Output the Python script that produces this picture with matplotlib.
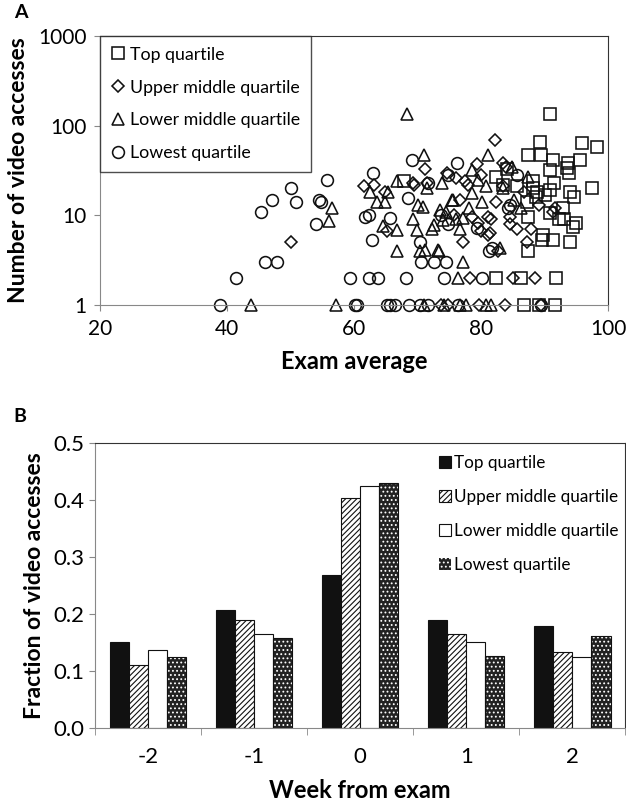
import matplotlib
matplotlib.use("Agg")
import matplotlib.pyplot as plt
from matplotlib.ticker import FixedLocator, FuncFormatter
import numpy as np

plt.rcParams['font.family'] = ['Lato', 'DejaVu Sans']
plt.rcParams['hatch.linewidth'] = 0.8

# ---- Panel A: exam average vs number of video accesses ----
top_x = [67.8, 82.4, 82.4, 83.4, 84.0, 86.2, 86.8, 87.3, 87.4, 87.4, 88.1, 88.1, 88.7, 88.8,
         89.1, 89.3, 89.5, 89.6, 89.8, 90.1, 90.8, 90.9, 90.9, 90.9, 91.3, 91.3, 91.4, 91.6,
         91.8, 92.3, 92.9, 93.0, 93.5, 93.7, 93.8, 94.0, 94.0, 94.5, 94.6, 95.0, 95.6, 95.9,
         97.5, 98.3, 85.6, 87.2]
top_y = [24, 27, 2, 22, 33, 2, 1, 4, 47, 9.6, 24, 20, 16, 18,
         1, 66, 47, 5.3, 6, 17, 134, 32, 10.6, 19, 41, 5.3, 23, 1,
         2, 9, 12, 9, 34, 38, 30, 18, 5, 7.4, 16, 8.2, 41, 64,
         20, 58, 21, 14]

upper_x = [50.1, 61.5, 63.2, 64.8, 65.1, 69.3, 69.5, 71.2, 71.5, 73.6, 74.6, 74.7, 75.8, 76.7,
           77.2, 77.4, 78.3, 78.6, 79.3, 79.5, 79.6, 79.9, 80.0, 81.1, 81.1, 81.4, 81.6, 82.2,
           82.4, 82.7, 83.4, 83.4, 83.8, 83.9, 84.6, 84.6, 85.0, 85.6, 86.8, 87.2, 87.8, 88.5,
           89.1, 89.4, 91.3, 91.6, 78.0, 76.0]
upper_y = [5, 21, 22, 18, 6.7, 23, 22, 33, 23, 1, 30, 1, 10, 14.8,
           5, 24, 2, 9.6, 37, 8.2, 1, 6.7, 28, 6, 9.6, 6.3, 9, 70,
           14, 4, 21, 38, 1, 35, 8, 9.6, 2, 7, 18, 5, 7, 2,
           13, 1, 11, 12, 22, 26]

lower_x = [43.7, 56.1, 56.5, 57.2, 62.5, 63.6, 64.8, 64.6, 65.4, 66.7, 66.8, 66.7, 68.4, 69.2,
           69.9, 70.1, 70.4, 70.9, 71.0, 71.0, 71.2, 71.4, 72.3, 72.5, 73.2, 73.4, 73.5, 73.9,
           74.0, 74.2, 74.5, 75.4, 75.6, 76.1, 76.4, 76.6, 76.7, 77.2, 77.2, 77.6, 78.1, 78.6,
           78.6, 79.5, 80.2, 80.8, 80.8, 81.1, 81.6, 83.0, 83.4, 84.9, 85.1, 86.2, 87.4]
lower_y = [1, 8.6, 12, 1, 18, 14, 14, 7.6, 18, 24, 6.8, 4, 134, 9,
           6.8, 13, 4, 12.4, 47, 1, 4.1, 20, 7, 7.8, 4.1, 4, 11.4, 23,
           8.9, 1, 11, 15, 14.8, 9, 2, 1, 7, 3, 9.3, 1, 12, 32,
           17.7, 25, 14, 21, 1, 47, 1, 4.3, 20, 35, 14.8, 12, 27]

lowest_x = [38.8, 41.4, 45.3, 46.0, 47.0, 47.8, 50.1, 50.9, 54.0, 54.5, 54.7, 55.8, 59.3, 60.1,
            60.5, 61.7, 62.3, 62.4, 62.8, 63.0, 63.7, 65.1, 65.7, 66.4, 65.7, 68.1, 68.5, 68.6,
            69.1, 70.3, 70.4, 70.6, 71.7, 71.7, 72.5, 73.6, 74.1, 74.5, 74.7, 74.8, 76.2, 76.4,
            79.4, 80.2, 81.3, 81.7, 84.3, 84.6, 85.6, 89.4]
lowest_y = [1, 2, 11, 3, 15, 3, 20, 14, 8, 15, 14, 25, 2, 1,
            1, 9.5, 10, 2, 5.3, 30, 2, 1, 1, 1, 9.3, 2, 15.6, 1,
            41, 5, 1, 3, 1, 23, 3, 10, 2, 3, 28, 8, 38, 1,
            7.2, 2, 4, 4.3, 12, 13, 28, 1]

# ---- Panel B: fraction of video accesses by week ----
weeks = ['-2', '-1', '0', '1', '2']
frac_top = [0.151, 0.207, 0.269, 0.190, 0.179]
frac_upper = [0.110, 0.189, 0.404, 0.164, 0.133]
frac_lower = [0.137, 0.165, 0.425, 0.150, 0.124]
frac_lowest = [0.125, 0.158, 0.430, 0.127, 0.161]

fig = plt.figure(figsize=(6.26, 8.08), dpi=100)

# Panel A
ax1 = fig.add_axes([0.16, 0.6225, 0.8115, 0.333])
mk = dict(linestyle='none', markerfacecolor='none', markeredgecolor='#111111',
          markeredgewidth=1.15, clip_on=False)
ax1.plot(top_x, top_y, marker='s', markersize=9, label='Top quartile', **mk)
ax1.plot(upper_x, upper_y, marker='D', markersize=6.3, label='Upper middle quartile', **mk)
ax1.plot(lower_x, lower_y, marker='^', markersize=9, label='Lower middle quartile', **mk)
ax1.plot(lowest_x, lowest_y, marker='o', markersize=8.5, label='Lowest quartile', **mk)

ax1.set_yscale('log')
ax1.set_xlim(20, 100)
ax1.set_ylim(1, 1000)
ax1.yaxis.set_major_locator(FixedLocator([1, 10, 100, 1000]))
ax1.yaxis.set_minor_locator(FixedLocator([]))
ax1.yaxis.set_major_formatter(FuncFormatter(lambda v, p: f'{v:g}'))
ax1.set_xticks([20, 40, 60, 80, 100])
ax1.tick_params(labelsize=15, length=4, color='#888888', pad=6)
ax1.set_xlabel('Exam average', fontsize=17, fontweight='bold', labelpad=8)
ax1.set_ylabel('Number of video accesses', fontsize=16.5, fontweight='bold', labelpad=6)
for side in ['left', 'bottom']:
    ax1.spines[side].set_color('#888888')
for side in ['top', 'right']:
    ax1.spines[side].set_color('#333333')

leg1 = ax1.legend(loc='upper left', bbox_to_anchor=(0, 1), borderaxespad=0,
                  fontsize=12.8, frameon=True, fancybox=False, edgecolor='#222222',
                  handlelength=0.8, handletextpad=0.3, labelspacing=0.95,
                  borderpad=0.6, numpoints=1)
leg1.get_frame().set_linewidth(1.0)
fig.text(0.022, 0.985, 'A', fontsize=14, fontweight='bold', ha='left', va='center')

# Panel B
ax2 = fig.add_axes([0.152, 0.099, 0.847, 0.353])
xpos = np.arange(len(weeks))
w = 0.18
bk = dict(edgecolor='#111111', linewidth=0.8)
ax2.bar(xpos - 1.5 * w, frac_top, w, color='#111111', label='Top quartile', **bk)
ax2.bar(xpos - 0.5 * w, frac_upper, w, color='white', hatch='//////', label='Upper middle quartile', **bk)
ax2.bar(xpos + 0.5 * w, frac_lower, w, color='white', label='Lower middle quartile', **bk)
# dotted pattern: dark fill with white dots, then a black outline on top
ax2.bar(xpos + 1.5 * w, frac_lowest, w, color='#222222', edgecolor='white', hatch='....',
        linewidth=0, label='Lowest quartile')
ax2.bar(xpos + 1.5 * w, frac_lowest, w, fill=False, **bk)

ax2.set_xlim(-0.5, len(weeks) - 0.5)
ax2.set_ylim(0, 0.5)
ax2.set_yticks(np.arange(0, 0.51, 0.1))
ax2.yaxis.set_major_formatter(FuncFormatter(lambda v, p: f'{v:.1f}'))
ax2.set_xticks(xpos)
ax2.set_xticklabels(weeks)
ax2.set_xticks(np.arange(-0.5, len(weeks)), minor=True)
ax2.tick_params(axis='x', which='major', length=0, labelsize=16, pad=14)
ax2.tick_params(axis='x', which='minor', length=5, color='#888888')
ax2.tick_params(axis='y', labelsize=16, length=4, color='#888888')
ax2.set_xlabel('Week from exam', fontsize=17, fontweight='bold', labelpad=8)
ax2.set_ylabel('Fraction of video accesses', fontsize=16.5, fontweight='bold', labelpad=6)
for side in ['left', 'bottom']:
    ax2.spines[side].set_color('#888888')
for side in ['top', 'right']:
    ax2.spines[side].set_color('#333333')

ax2.legend(loc='upper left', bbox_to_anchor=(0.635, 0.98), frameon=False, fontsize=12.3,
           handlelength=0.7, handleheight=0.7, handletextpad=0.2, labelspacing=1.05,
           borderaxespad=0)
fig.text(0.022, 0.484, 'B', fontsize=14, fontweight='bold', ha='left', va='center')

fig.savefig('out.png', dpi=100)
